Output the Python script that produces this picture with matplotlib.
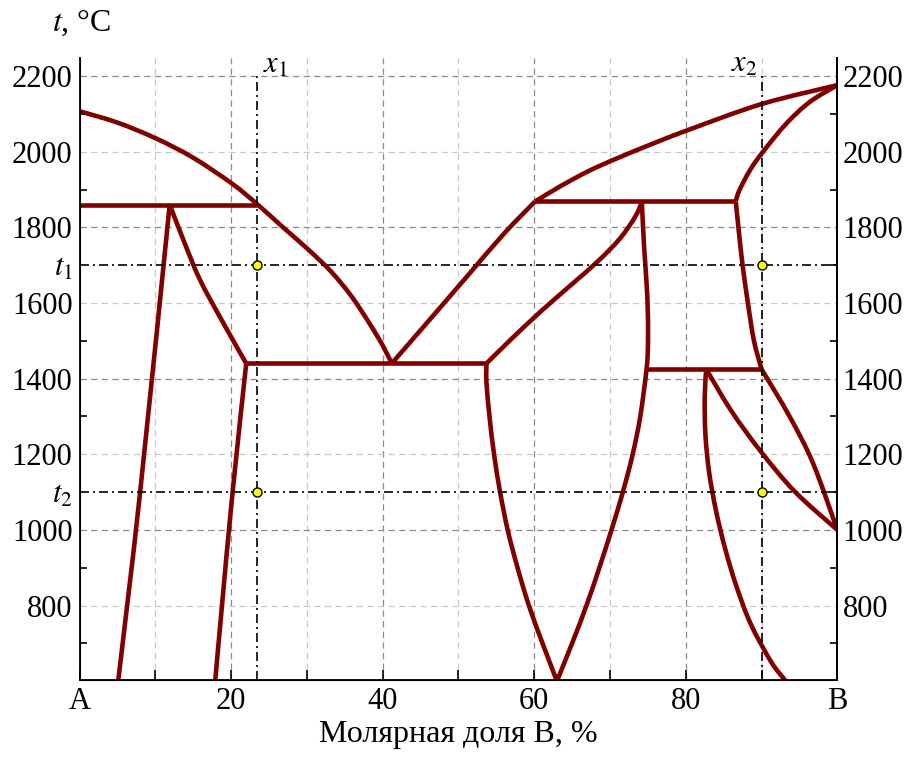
import numpy as np
import matplotlib.pyplot as plt
from matplotlib.path import Path
from matplotlib.patches import PathPatch

plt.rcParams['font.family'] = 'Liberation Serif'
plt.rcParams['mathtext.fontset'] = 'stix'

# phase boundaries: composition (mol % B) and temperature (°C)
liq_a_x = [0, 5, 10.1, 15.0, 20.1, 23.4, 26.8, 30.2, 33.2, 35.8, 38.2, 40.0, 41.2]
liq_a_t = [2107, 2077, 2035, 1984, 1916, 1862, 1801, 1741, 1683, 1620, 1548, 1488, 1440]

liq_b1_x = [41.2, 46.0, 51.0, 56.0, 60.1]
liq_b1_t = [1440, 1551, 1667, 1783, 1868]

liq_b2_x = [60.1, 63.4, 67.3, 71.0, 75.0, 80, 90, 100]
liq_b2_t = [1868, 1908, 1950, 1983, 2016, 2055, 2126, 2176]

sol_b_x = [86.6, 87.1, 88.5, 90.2, 93.3, 96.4, 100]
sol_b_t = [1870, 1899, 1952, 2000, 2075, 2132, 2176]

alpha_l_x = [5.1, 8.0, 11.9]
alpha_l_t = [600, 1100, 1860]

alpha_r_x = [11.9, 13.7, 15.9, 19.0, 22.0]
alpha_r_t = [1860, 1767, 1661, 1546, 1440]

beta_l_x = [22.0, 20.2, 18.8, 17.9]
beta_l_t = [1440, 1100, 800, 600]

solv_x = [53.7, 57.0, 61.0, 65.0, 68.5, 71.3, 73.3, 74.2]
solv_t = [1440, 1505, 1580, 1650, 1712, 1770, 1827, 1866]

gam_l_x = [53.7, 53.7, 54.1, 54.7, 55.5, 56.5, 57.8, 59.3, 61.1, 63.0]
gam_l_t = [1440, 1390, 1300, 1200, 1100, 1000, 900, 800, 700, 600]

gam_r_x = [74.2, 74.5, 74.8, 75.0, 75.0, 74.8, 74.0, 73.0, 71.7, 70.2, 68.6, 66.9, 65.0, 63.0]
gam_r_t = [1868, 1750, 1661, 1573, 1480, 1420, 1300, 1200, 1100, 1000, 900, 800, 700, 600]

delta_x = [86.6, 87.0, 87.5, 88.2, 89.0, 90.0]
delta_t = [1868, 1790, 1700, 1600, 1500, 1425]

eps_x = [82.7, 82.5, 82.6, 83.1, 84.0, 85.2, 86.7, 88.6, 91.3, 93.1]
eps_t = [1425, 1350, 1250, 1150, 1050, 950, 850, 750, 650, 603]

lens_u_x = [82.7, 86.0, 89.8, 94.4, 100]
lens_u_t = [1425, 1315, 1210, 1101, 1000]

lens_l_x = [90.0, 93.7, 96.8, 100]
lens_l_t = [1425, 1300, 1176, 1000]

# invariant horizontals: (x_start, x_end, t)
isotherms = [(0, 23.4, 1860), (22.0, 53.7, 1440), (60.1, 86.6, 1870), (74.9, 90.0, 1425)]

x1, x2 = 23.4, 90.0
t1, t2 = 1700, 1100

curves = [(liq_a_x, liq_a_t), (liq_b1_x, liq_b1_t), (liq_b2_x, liq_b2_t),
          (sol_b_x, sol_b_t), (alpha_l_x, alpha_l_t), (alpha_r_x, alpha_r_t),
          (beta_l_x, beta_l_t), (solv_x, solv_t), (gam_l_x, gam_l_t),
          (gam_r_x, gam_r_t), (delta_x, delta_t), (eps_x, eps_t),
          (lens_u_x, lens_u_t), (lens_l_x, lens_l_t)]


def smooth_path(xs, ys):
    """Bezier path through the given points (Catmull-Rom tangents)."""
    p = np.column_stack([xs, ys]).astype(float)
    n = len(p)
    verts = [p[0]]
    codes = [Path.MOVETO]
    for i in range(n - 1):
        p0 = p[i - 1] if i > 0 else p[i]
        p3 = p[i + 2] if i + 2 < n else p[i + 1]
        c1 = p[i] + (p[i + 1] - p0) / 6.0
        c2 = p[i + 1] - (p3 - p[i]) / 6.0
        verts += [c1, c2, p[i + 1]]
        codes += [Path.CURVE4] * 3
    return Path(verts, codes)


fig = plt.figure(figsize=(9.13, 7.65), dpi=100)
ax = fig.add_axes([0.0871, 0.1111, 0.8300, 0.8127])
ax.set_xlim(0, 100)
ax.set_ylim(603, 2247)

# grid: alternating dark / light dashed lines
for xv in range(10, 100, 10):
    ax.axvline(xv, color='#8a8a8a' if xv % 20 == 0 else '#c8c8c8',
               lw=0.9, ls=(0, (5, 3.5)), zorder=0)
for yv in range(800, 2201, 200):
    ax.axhline(yv, color='#8a8a8a' if yv % 400 == 200 else '#c8c8c8',
               lw=0.9, ls=(0, (5, 3.5)), zorder=0)

red = '#800000'
for cx, ct in curves:
    ax.add_patch(PathPatch(smooth_path(cx, ct), fill=False, ec=red, lw=3.3,
                           capstyle='butt', joinstyle='round', zorder=2))
for xa, xb, tv in isotherms:
    ax.plot([xa, xb], [tv, tv], color=red, lw=3.3, solid_capstyle='butt', zorder=2)

dd = (0, (5.4, 2.4, 1.2, 2.4))
for xv in (x1, x2):
    ax.plot([xv, xv], [603, 2200], color='black', lw=1.2, ls=dd, zorder=3)
for tv in (t1, t2):
    ax.plot([0, 100], [tv, tv], color='black', lw=1.2, ls=dd, zorder=3)

ax.plot([x1, x1, x2, x2], [t1, t2, t1, t2], 'o', color='yellow', mec='black',
        mew=1.0, ms=6.5, zorder=4, clip_on=False)

ax.text(x1 + 0.8, 2208, r'$x_1$', fontsize=22, ha='left', va='baseline')
ax.text(x2 - 0.6, 2212, r'$x_2$', fontsize=22, ha='right', va='baseline')
fig.text(52 / 913, 1 - 31 / 765, r'$t$, °C', fontsize=23, ha='left', va='baseline')

# axes frame and ticks
ax.spines['top'].set_visible(False)
for s in ('left', 'right', 'bottom'):
    ax.spines[s].set_linewidth(1.3)
    ax.spines[s].set_zorder(5)

ax.set_xticks([0, 20, 40, 60, 80, 100])
ax.set_xticklabels(['A', '20', '40', '60', '80', 'B'])
ax.set_xticks([10, 30, 50, 70, 90], minor=True)

left_ticks = [800, 1000, t2, 1200, 1400, 1600, t1, 1800, 2000, 2200]
left_labels = ['800', '1000', r'$t_2$', '1200', '1400', '1600', r'$t_1$',
               '1800', '2000', '2200']
ax.set_yticks(left_ticks)
ax.set_yticklabels(left_labels)
ax.set_yticks([700, 900, 1300, 1500, 1900, 2100], minor=True)

ax.tick_params(axis='both', which='both', direction='in', labelsize=22,
               color='black', width=1.2)
ax.tick_params(axis='x', which='both', length=7, pad=5)
ax.tick_params(axis='y', which='both', length=5, pad=5)
ax.tick_params(axis='y', which='major', length=0)

rax = ax.twinx()
rax.set_ylim(ax.get_ylim())
rax.spines['top'].set_visible(False)
rax.spines['right'].set_linewidth(1.3)
rax.set_yticks(range(800, 2201, 200))
rax.set_yticks(range(700, 2200, 200), minor=True)
rax.tick_params(axis='y', which='both', direction='in', labelsize=22,
                length=5, width=1.2, pad=4)
rax.tick_params(axis='y', which='major', length=0)

ax.set_xlabel('Молярная доля B, %', fontsize=23, labelpad=3)

fig.savefig('out.png', dpi=100)
